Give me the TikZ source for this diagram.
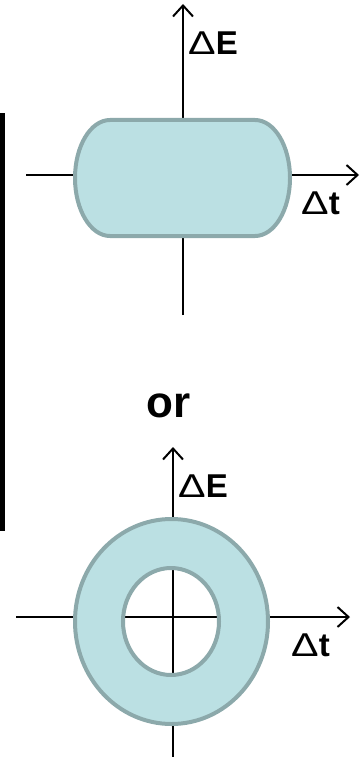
\documentclass[tikz,border=0pt]{standalone}
\usepackage{fontspec}
\setmainfont{Liberation Sans}
\usetikzlibrary{arrows.meta}
\definecolor{tealfill}{HTML}{BBE0E3}
\definecolor{tealline}{HTML}{8CA9AB}
\tikzset{
  axis/.style={line width=2pt, black, -{Straight Barb[length=11pt,width=20pt]}},
  blob/.style={fill=tealfill, draw=tealline, line width=4pt},
  lbl/.style={inner sep=0pt, anchor=base west, font=\fontsize{33}{33}\selectfont\bfseries},
  bigword/.style={inner sep=0pt, anchor=base west, font=\fontsize{44}{44}\selectfont\bfseries},
}
\newcommand{\dlt}{{\mdseries\scalebox{1.25}[1]{Δ}}}
\begin{document}
\begin{tikzpicture}[x=1pt,y=-1pt]
\useasboundingbox (0,0) rectangle (362,757);

% separator bar on the left
\fill[black] (0,113) rectangle (5,531);

% ---- upper plot ----
\coordinate (ua0) at (183,315);
\coordinate (ua1) at (183,4);
\coordinate (uh0) at (26,175);
\coordinate (uh1) at (359,175);
\draw[axis] (ua0) -- (ua1);
\draw[axis] (uh0) -- (uh1);
\draw[blob] (110,120) -- (255,120)
  arc[start angle=-90, end angle=90, x radius=35, y radius=58]
  -- (110,236)
  arc[start angle=90, end angle=270, x radius=35, y radius=58] -- cycle;
\node[lbl] (uE) at (188,55) {\dlt E};
\node[lbl] (ut) at (301,214) {\dlt t};

\node[bigword] (or) at (146,417) {or};

% ---- lower plot ----
\coordinate (la0) at (173,757);
\coordinate (la1) at (173,447);
\coordinate (lh0) at (16,617);
\coordinate (lh1) at (350,617);
\draw[axis] (la0) -- (la1);
\draw[axis] (lh0) -- (lh1);
\draw[blob, even odd rule]
  (171.5,621.5) ellipse [x radius=96.5, y radius=102.5]
  (171,621.5) ellipse [x radius=48, y radius=53.5];
\node[lbl] (lE) at (178,497) {\dlt E};
\node[lbl] (lt) at (291,656) {\dlt t};
\end{tikzpicture}
\end{document}
